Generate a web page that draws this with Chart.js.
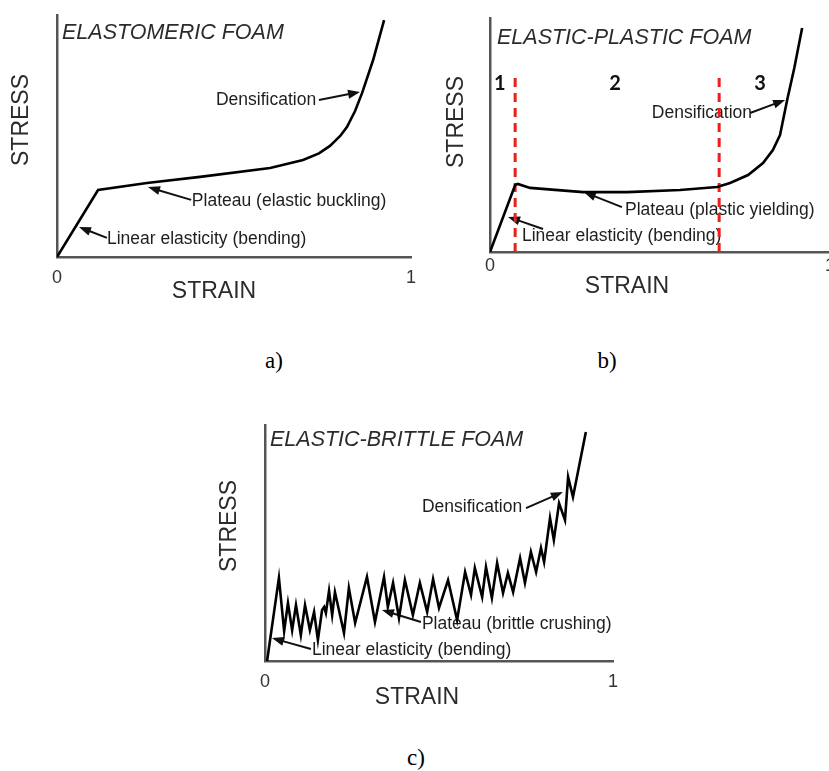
<!DOCTYPE html>
<html><head><meta charset="utf-8">
<script src="https://cdn.jsdelivr.net/npm/chart.js@4"></script>
<style>
html,body{margin:0;padding:0;background:#fff;width:829px;height:771px;overflow:hidden;position:relative;}
canvas{position:absolute;}
.cap{position:absolute;font-family:"Liberation Serif","Times New Roman",serif;font-size:23px;color:#000;transform:translate(-50%,-50%);line-height:1;}
</style></head><body>
<canvas id="pa" width="420" height="320" style="left:0;top:0"></canvas>
<canvas id="pb" width="430" height="320" style="left:420px;top:0"></canvas>
<canvas id="pc" width="440" height="300" style="left:195px;top:415px"></canvas>
<div class="cap" style="left:274px;top:360px">a)</div>
<div class="cap" style="left:607px;top:360px">b)</div>
<div class="cap" style="left:416px;top:757px">c)</div>
<script>
// ---- data (strain 0..1, stress in arbitrary 0..1 units) ----
const xTickValues = [0, 1];

const elastomericStrain = [0, 0.116, 0.254, 0.404, 0.602, 0.695, 0.740, 0.771, 0.800, 0.819, 0.842, 0.862, 0.893, 0.924];
const elastomericStress = [0, 0.277, 0.306, 0.331, 0.368, 0.401, 0.428, 0.459, 0.500, 0.537, 0.603, 0.678, 0.814, 0.979];

const plasticStrain = [0, 0.074, 0.082, 0.118, 0.274, 0.403, 0.559, 0.668, 0.706, 0.759, 0.803, 0.832, 0.853, 0.874, 0.895, 0.918];
const plasticStress = [0, 0.286, 0.291, 0.274, 0.256, 0.256, 0.265, 0.278, 0.295, 0.329, 0.380, 0.436, 0.500, 0.650, 0.786, 0.957];

const regionBoundaries = [0.074, 0.674];
const regionBoundaryTop = 0.76;
const regionLabels = ['1', '2', '3'];
const regionLabelStrain = [0.029, 0.368, 0.794];
const regionLabelStress = 0.718;

const brittleStrain = [0.006, 0.040, 0.055, 0.066, 0.078, 0.089, 0.103, 0.115, 0.129, 0.141, 0.152, 0.164, 0.170, 0.175, 0.184, 0.193, 0.201, 0.227, 0.241, 0.259, 0.293, 0.316, 0.342, 0.353, 0.368, 0.385, 0.402, 0.425, 0.445, 0.466, 0.483, 0.500, 0.526, 0.552, 0.575, 0.592, 0.603, 0.624, 0.635, 0.652, 0.667, 0.684, 0.698, 0.713, 0.733, 0.747, 0.764, 0.779, 0.793, 0.802, 0.819, 0.830, 0.845, 0.862, 0.871, 0.885, 0.922];
const brittleStress = [0, 0.352, 0.127, 0.246, 0.131, 0.237, 0.110, 0.237, 0.131, 0.208, 0.089, 0.216, 0.229, 0.203, 0.297, 0.195, 0.292, 0.119, 0.309, 0.161, 0.356, 0.165, 0.356, 0.229, 0.331, 0.182, 0.343, 0.195, 0.331, 0.208, 0.347, 0.225, 0.343, 0.174, 0.377, 0.280, 0.394, 0.271, 0.398, 0.267, 0.415, 0.288, 0.373, 0.292, 0.436, 0.331, 0.462, 0.377, 0.479, 0.419, 0.606, 0.513, 0.669, 0.597, 0.780, 0.695, 0.970];

// annotations: text anchor and arrow tail/head in (strain, stress)
const elastomericNotes = [
  {text: 'Densification', at: [0.449, 0.649], tail: [0.740, 0.649], head: [0.856, 0.682]},
  {text: 'Plateau (elastic buckling)', at: [0.381, 0.231], tail: [0.379, 0.236], head: [0.257, 0.289]},
  {text: 'Linear elasticity (bending)', at: [0.141, 0.074], tail: [0.141, 0.079], head: [0.062, 0.124]}
];
const plasticNotes = [
  {text: 'Densification', at: [0.476, 0.594], tail: [0.765, 0.594], head: [0.868, 0.650]},
  {text: 'Plateau (plastic yielding)', at: [0.397, 0.179], tail: [0.388, 0.192], head: [0.276, 0.256]},
  {text: 'Linear elasticity (bending)', at: [0.094, 0.068], tail: [0.156, 0.098], head: [0.053, 0.150]}
];
const brittleNotes = [
  {text: 'Densification', at: [0.451, 0.653], tail: [0.750, 0.648], head: [0.856, 0.716]},
  {text: 'Plateau (brittle crushing)', at: [0.451, 0.157], tail: [0.448, 0.165], head: [0.336, 0.216]},
  {text: 'Linear elasticity (bending)', at: [0.135, 0.047], tail: [0.132, 0.051], head: [0.020, 0.097]}
];

// ---- drawing ----
const SANS = '"Liberation Sans", Arial, Helvetica, sans-serif';
function pts(xs, ys) { return xs.map((v, i) => ({x: v, y: ys[i]})); }

function drawArrow(ctx, x1, y1, x2, y2) {
  const a = Math.atan2(y2 - y1, x2 - x1), L = 12, W = 4.5;
  ctx.beginPath(); ctx.moveTo(x1, y1);
  ctx.lineTo(x2 - Math.cos(a) * L * 0.7, y2 - Math.sin(a) * L * 0.7); ctx.stroke();
  ctx.beginPath(); ctx.moveTo(x2, y2);
  ctx.lineTo(x2 - L * Math.cos(a) + W * Math.sin(a), y2 - L * Math.sin(a) - W * Math.cos(a));
  ctx.lineTo(x2 - L * Math.cos(a) - W * Math.sin(a), y2 - L * Math.sin(a) + W * Math.cos(a));
  ctx.closePath(); ctx.fill();
}

function annotPlugin(p) {
  return {
    id: 'annot_' + p.id,
    beforeDatasetsDraw(chart) {
      const {ctx, chartArea: ca, scales: {x, y}} = chart;
      ctx.save();
      // panel title
      ctx.fillStyle = '#2b2b2b';
      ctx.font = 'italic 21.5px ' + SANS;
      ctx.textAlign = 'left'; ctx.textBaseline = 'middle';
      ctx.fillText(p.title, ca.left + p.titleOffset[0], ca.top + p.titleOffset[1]);
      // notes
      ctx.font = '17.5px ' + SANS;
      ctx.fillStyle = '#1e1e1e'; ctx.strokeStyle = '#111'; ctx.lineWidth = 2;
      p.notes.forEach(n => {
        ctx.fillText(n.text, x.getPixelForValue(n.at[0]), y.getPixelForValue(n.at[1]));
        ctx.fillStyle = '#111';
        drawArrow(ctx, x.getPixelForValue(n.tail[0]), y.getPixelForValue(n.tail[1]),
                       x.getPixelForValue(n.head[0]), y.getPixelForValue(n.head[1]));
        ctx.fillStyle = '#1e1e1e';
      });
      // region numbers
      if (p.regions) {
        ctx.font = 'bold 20px Lato, ' + SANS;
        ctx.fillStyle = '#111'; ctx.textAlign = 'center';
        p.regions.labels.forEach((t, i) => {
          ctx.fillText(t, x.getPixelForValue(p.regions.strain[i]), y.getPixelForValue(p.regions.stress));
        });
      }
      // axis titles
      ctx.fillStyle = '#2b2b2b';
      ctx.font = '23px ' + SANS;
      ctx.textAlign = 'center';
      ctx.fillText('STRAIN', p.strainLabel[0], p.strainLabel[1]);
      ctx.translate(p.stressLabel[0], p.stressLabel[1]);
      ctx.rotate(-Math.PI / 2);
      ctx.fillText('STRESS', 0, 0);
      ctx.restore();
    }
  };
}

const panels = [
  {id: 'pa', w: 420, h: 320, area: {left: 57, top: 15, right: 411, bottom: 257}, tickPad: 10,
   title: 'ELASTOMERIC FOAM', titleOffset: [5, 18], stressLabel: [22, 120], strainLabel: [214, 292],
   notes: elastomericNotes,
   datasets: [{data: pts(elastomericStrain, elastomericStress), borderColor: '#000', borderWidth: 2.6}]},
  {id: 'pb', w: 430, h: 320, area: {left: 70, top: 18, right: 410, bottom: 252}, tickPad: 3,
   title: 'ELASTIC-PLASTIC FOAM', titleOffset: [7, 20], stressLabel: [37, 122], strainLabel: [207, 287],
   notes: plasticNotes,
   regions: {labels: regionLabels, strain: regionLabelStrain, stress: regionLabelStress},
   datasets: [
     {data: pts(plasticStrain, plasticStress), borderColor: '#000', borderWidth: 2.6},
     ...regionBoundaries.map(s => ({data: [{x: s, y: 0}, {x: s, y: regionBoundaryTop}],
        borderColor: '#e8211c', borderWidth: 3, borderDash: [9, 6]}))
   ]},
  {id: 'pc', w: 440, h: 300, area: {left: 70, top: 10, right: 418, bottom: 246}, tickPad: 10,
   title: 'ELASTIC-BRITTLE FOAM', titleOffset: [5, 15], stressLabel: [35, 111], strainLabel: [222, 283],
   notes: brittleNotes,
   datasets: [{data: pts(brittleStrain, brittleStress), borderColor: '#000', borderWidth: 2.6}]}
];

panels.forEach(p => {
  new Chart(document.getElementById(p.id), {
    type: 'line',
    data: {datasets: p.datasets},
    options: {
      responsive: false, animation: false, events: [],
      layout: {padding: {left: 0, top: p.area.top, right: p.w - p.area.right, bottom: 0}},
      plugins: {legend: {display: false}, tooltip: {enabled: false}},
      elements: {point: {radius: 0}, line: {tension: 0, borderJoinStyle: 'miter', fill: false}},
      scales: {
        x: {type: 'linear', min: 0, max: 1,
            grid: {display: false, drawTicks: false},
            border: {display: true, color: '#555', width: 2.5},
            ticks: {padding: p.tickPad, color: '#333', font: {family: SANS, size: 18}, maxRotation: 0, autoSkip: false},
            afterBuildTicks: s => { s.ticks = xTickValues.map(v => ({value: v})); },
            afterFit: s => { s.height = p.h - p.area.bottom; s.paddingLeft = 0; s.paddingRight = 0; }},
        y: {type: 'linear', min: 0, max: 1,
            grid: {display: false, drawTicks: false},
            border: {display: true, color: '#555', width: 2.5},
            ticks: {display: false},
            afterFit: s => { s.width = p.area.left; }}
      }
    },
    plugins: [annotPlugin(p)]
  });
});
</script>
</body></html>
